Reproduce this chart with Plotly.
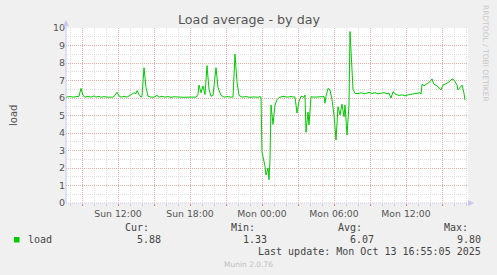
import plotly.graph_objects as go

# ---- data ----
sun = "2025-10-12 "
mon = "2025-10-13 "
times = [sun + t for t in [
    "07:40", "08:00", "08:15", "08:30", "08:45", "08:55", "09:05", "09:15", "09:30", "09:45",
    "10:00", "10:10", "10:25", "10:35", "10:50", "11:05", "11:20", "11:35", "11:45", "11:55",
    "12:05", "12:15", "12:30", "12:45", "13:00", "13:10", "13:20", "13:30", "13:35", "13:45",
    "13:55", "14:00", "14:10", "14:20", "14:30", "14:45", "15:00", "15:15", "15:25", "15:40",
    "15:55", "16:10", "16:25", "16:40", "16:55", "17:10", "17:30", "17:50", "18:10", "18:30",
    "18:40", "18:45", "18:55", "19:05", "19:15", "19:25", "19:35", "19:45", "19:55", "20:10",
    "20:20", "20:35", "20:50", "21:10", "21:25", "21:35", "21:45", "21:55", "22:05", "22:20",
    "22:40", "23:00", "23:20", "23:40", "23:50", "23:55"]] + [mon + t for t in [
    "00:00", "00:10", "00:15", "00:20", "00:30", "00:35", "00:40", "00:45", "00:55", "01:05",
    "01:15", "01:25", "01:45", "02:05", "02:25", "02:45", "02:55", "03:05", "03:15", "03:30",
    "03:35", "03:40", "03:50", "03:55", "04:05", "04:20", "04:40", "05:00", "05:10", "05:15",
    "05:20", "05:30", "05:40", "05:50", "06:00", "06:10", "06:20", "06:30", "06:40", "06:50",
    "06:55", "07:05", "07:15", "07:20", "07:30", "07:35", "07:45", "08:00", "08:15", "08:30",
    "08:45", "08:55", "09:10", "09:25", "09:40", "09:55", "10:10", "10:25", "10:35", "10:45",
    "10:55", "11:10", "11:25", "11:40", "11:55", "12:10", "12:25", "12:40", "12:55", "13:10",
    "13:15", "13:20", "13:30", "13:45", "14:00", "14:10", "14:20", "14:35", "14:45", "14:55",
    "15:05", "15:25", "15:40", "15:50", "16:00", "16:15", "16:20", "16:35", "16:40", "16:50",
    "16:55"]]
load = [
    6.05, 6.08, 6.05, 6.07, 6.10, 6.55, 6.15, 6.05, 6.10, 6.05,
    6.12, 6.05, 6.10, 6.04, 6.08, 6.05, 6.07, 6.05, 6.15, 6.33,
    6.12, 6.05, 6.10, 6.05, 6.15, 6.22, 6.30, 6.25, 6.42, 6.20,
    6.05, 6.10, 7.73, 6.60, 6.10, 6.05, 6.05, 6.15, 6.05, 6.10,
    6.05, 6.08, 6.04, 6.07, 6.05, 6.05, 6.04, 6.05, 6.04, 6.05,
    6.20, 6.74, 6.30, 6.69, 6.20, 7.85, 6.50, 6.10, 6.15, 7.73,
    6.60, 6.15, 6.05, 6.08, 6.05, 6.06, 8.51, 6.90, 6.15, 6.05,
    6.08, 6.04, 6.06, 6.04, 6.08, 6.05,
    2.90, 2.36, 2.10, 1.60, 2.00, 1.33, 2.50, 5.60, 4.50, 5.60,
    5.90, 6.02, 6.10, 6.05, 6.08, 6.05, 5.14, 5.80, 6.10, 6.05,
    6.17, 4.04, 5.20, 4.46, 6.07, 6.05, 6.06, 6.05, 6.08, 5.70,
    6.10, 6.55, 6.46, 5.90, 5.03, 3.60, 5.50, 5.03, 5.65, 4.93,
    5.60, 3.89, 5.60, 9.80, 7.20, 6.50, 6.27, 6.25, 6.30, 6.24,
    6.28, 6.32, 6.26, 6.30, 6.24, 6.27, 6.30, 6.25, 6.28, 6.00,
    6.36, 6.20, 6.15, 6.18, 6.12, 6.18, 6.20, 6.25, 6.28, 6.30,
    6.22, 6.78, 6.70, 6.84, 6.93, 7.09, 6.78, 6.70, 6.60, 6.46,
    6.74, 6.84, 6.97, 7.09, 7.03, 6.74, 6.46, 6.70, 6.74, 6.27,
    5.88]

x_start = "2025-10-12 07:40"
x_end = "2025-10-13 17:10"
major_ticks = ["2025-10-12 09:00", "2025-10-12 12:00", "2025-10-12 15:00", "2025-10-12 18:00",
               "2025-10-12 21:00", "2025-10-13 00:00", "2025-10-13 03:00", "2025-10-13 06:00",
               "2025-10-13 09:00", "2025-10-13 12:00", "2025-10-13 15:00"]
major_text = ["", "Sun 12:00", "", "Sun 18:00", "", "Mon 00:00", "", "Mon 06:00", "", "Mon 12:00", ""]

title = "Load average - by day"
stat_names = ["Cur:", "Min:", "Avg:", "Max:"]
stat_values = ["5.88", "1.33", "6.07", "9.80"]
series_name = "load"
last_update = "Last update: Mon Oct 13 16:55:05 2025"

# ---- layout helpers (pixel -> paper) ----
W, H = 497, 275
L, R, T, B = 66, 468, 28, 203


def px(x):
    return (x - L) / (R - L)


def py(y):
    return (B - y) / (B - T)


GREEN = "#00CC00"
MAJ = "#F2AAAA"
MIN = "#DEDEDE"
AX = "#C8C8F0"

fig = go.Figure()
fig.add_trace(go.Scatter(x=times, y=load, mode="lines",
                         line=dict(color=GREEN, width=1), hoverinfo="skip"))

fig.update_layout(
    width=W, height=H,
    margin=dict(l=L, r=W - R, t=T, b=H - B),
    paper_bgcolor="#F0F0F0", plot_bgcolor="#FFFFFF",
    showlegend=False,
    font=dict(family="DejaVu Sans", color="#555555", size=9),
)
fig.update_xaxes(
    type="date", range=[x_start, x_end],
    tickmode="array", tickvals=major_ticks, ticktext=major_text,
    showgrid=True, gridcolor=MAJ, griddash="1px,1px", gridwidth=1,
    ticks="outside", ticklen=2, tickcolor="#E88080",
    tickfont=dict(family="DejaVu Sans", size=9.3, color="#555555"),
    minor=dict(tickmode="linear", tick0="2025-10-12 00:00", dtick=3600000,
               showgrid=True, gridcolor=MIN, griddash="1px,1px", gridwidth=1,
               ticks="outside", ticklen=2, tickcolor="#CCCCCC"),
    showline=False, zeroline=False, fixedrange=True,
)
fig.update_yaxes(
    range=[0, 10], tickmode="linear", tick0=0, dtick=1,
    showgrid=True, gridcolor=MAJ, griddash="1px,1px", gridwidth=1,
    ticks="", ticklabelstandoff=0,
    tickfont=dict(family="DejaVu Sans", size=9.5, color="#555555"),
    minor=dict(tickmode="linear", tick0=0, dtick=0.5, showgrid=True,
               gridcolor=MIN, griddash="1px,1px", gridwidth=1),
    showline=False, zeroline=False, fixedrange=True,
)

shapes = [
    # y axis line + arrow
    dict(type="line", xref="paper", yref="paper", x0=0, x1=0, y0=0, y1=py(23),
         line=dict(color=AX, width=1)),
    dict(type="path", xref="paper", yref="paper",
         path=f"M {px(63)} {py(26)} L {px(69)} {py(26)} L {px(66)} {py(20)} Z",
         fillcolor=AX, line=dict(width=0)),
    # x axis line + arrow
    dict(type="line", xref="paper", yref="paper", x0=0, x1=px(469), y0=0, y1=0,
         line=dict(color=AX, width=1, dash="1px,1px")),
    dict(type="path", xref="paper", yref="paper",
         path=f"M {px(468)} {py(200)} L {px(468)} {py(206)} L {px(474)} {py(203)} Z",
         fillcolor=AX, line=dict(width=0)),
    # legend colour square
    dict(type="rect", xref="paper", yref="paper", x0=px(14), x1=px(19.5),
         y0=py(242.5), y1=py(237), fillcolor=GREEN, line=dict(width=0)),
]
fig.update_layout(shapes=shapes)

MONO = "DejaVu Sans Mono"
ann = []
ann.append(dict(text=title, x=px(249), y=py(19), xanchor="center", yanchor="middle",
                font=dict(family="DejaVu Sans", size=12.7, color="#555555")))
ann.append(dict(text="load", x=px(13), y=py(115), textangle=-90, xanchor="center",
                yanchor="middle", font=dict(family="DejaVu Sans", size=10, color="#555555")))
ann.append(dict(text="RRDTOOL / TOBI OETIKER", x=px(486), y=py(54), textangle=90,
                xanchor="center", yanchor="middle",
                font=dict(family="DejaVu Sans", size=7.5, color="#C8C8C8")))
stat_ends = [150.5, 257, 363.5, 470]
val_ends = [162.5, 269, 376, 483]
for name, xe in zip(stat_names, stat_ends):
    ann.append(dict(text=name, x=px(xe), y=py(227.5), xanchor="right", yanchor="middle",
                    font=dict(family=MONO, size=10, color="#444444")))
for v, xe in zip(stat_values, val_ends):
    ann.append(dict(text=v, x=px(xe), y=py(239.5), xanchor="right", yanchor="middle",
                    font=dict(family=MONO, size=10, color="#444444")))
ann.append(dict(text=series_name, x=px(26), y=py(239.5), xanchor="left", yanchor="middle",
                font=dict(family=MONO, size=10, color="#444444")))
ann.append(dict(text=last_update, x=px(483), y=py(251.5), xanchor="right", yanchor="middle",
                font=dict(family=MONO, size=10, color="#444444")))
ann.append(dict(text="Munin 2.0.76", x=px(248), y=py(264), xanchor="center", yanchor="middle",
                font=dict(family="DejaVu Sans", size=7.5, color="#C0C0C0")))
for a in ann:
    a.update(xref="paper", yref="paper", showarrow=False)
fig.update_layout(annotations=ann)

fig.write_html("out.html", config={"displayModeBar": False})
